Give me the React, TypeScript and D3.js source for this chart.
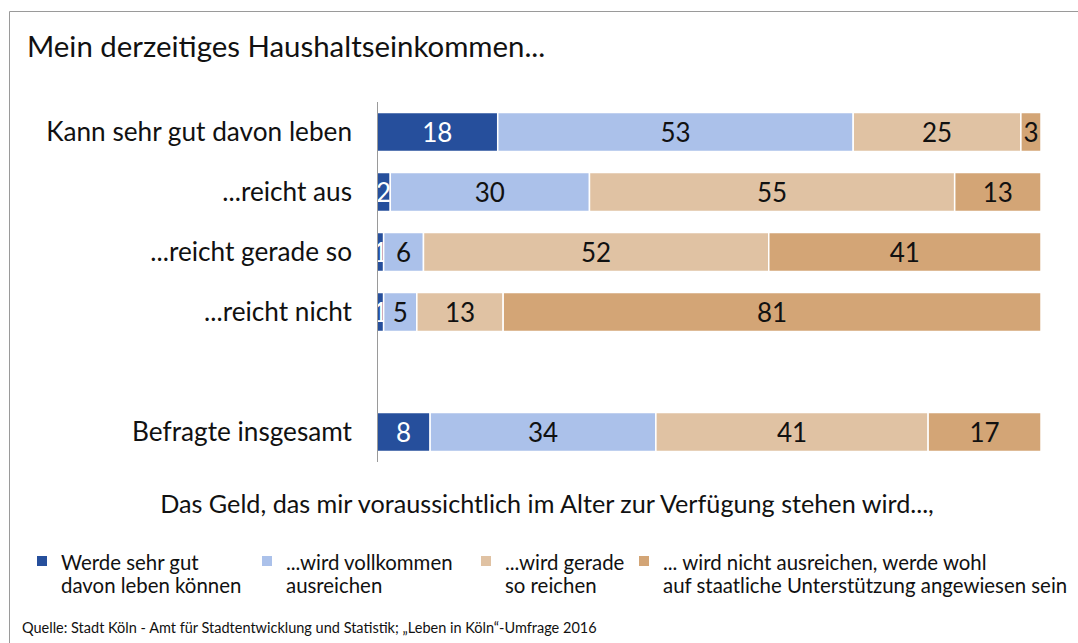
import React from "react";
import * as d3 from "d3";

const categories = ["Kann sehr gut davon leben", "...reicht aus", "...reicht gerade so", "...reicht nicht", "", "Befragte insgesamt"];
const seriesNames = ["Werde sehr gut davon leben können", "...wird vollkommen ausreichen", "...wird gerade so reichen", "... wird nicht ausreichen, werde wohl auf staatliche Unterstützung angewiesen sein"];
const values: (number[] | null)[] = [
  [18, 53, 25, 3],
  [2, 30, 55, 13],
  [1, 6, 52, 41],
  [1, 5, 13, 81],
  null,
  [8, 34, 41, 17],
];
const colors = ["#264f9c", "#abc1ea", "#e0c2a3", "#d3a576"];
const labelColors = ["#ffffff", "#111111", "#111111", "#111111"];
const legendLines = [
  ["Werde sehr gut", "davon leben können"],
  ["...wird vollkommen", "ausreichen"],
  ["...wird gerade", "so reichen"],
  ["... wird nicht ausreichen, werde wohl", "auf staatliche Unterstützung angewiesen sein"],
];
const title = "Mein derzeitiges Haushaltseinkommen...";
const subtitle = "Das Geld, das mir voraussichtlich im Alter zur Verfügung stehen wird...,";
const source = "Quelle: Stadt Köln - Amt für Stadtentwicklung und Statistik; „Leben in Köln“-Umfrage 2016";

const W = 1078, H = 643;
const FONT = "Lato, 'Open Sans', sans-serif";

export default function App() {
  const x0 = 377, x1 = 1041;
  const y = d3.scaleBand<string>().domain(categories.map((c, i) => String(i))).range([102, 462]).paddingInner(0.35).paddingOuter(0.175);
  const legendX = [37, 262, 481, 639];
  return (
    <svg width={W} height={H} style={{ position: "absolute", left: 0, top: 0, fontFamily: FONT }}>
      <rect x={0} y={0} width={W} height={H} fill="#fff" />
      <line x1={9.5} y1={11.5} x2={W} y2={11.5} stroke="#9a9a9a" />
      <line x1={9.5} y1={11.5} x2={9.5} y2={H} stroke="#9a9a9a" />
      <text x={27} y={57} fontSize={29.4} fill="#111">{title}</text>
      {values.map((row, i) => {
        if (!row) return null;
        const total = d3.sum(row);
        const xs = d3.scaleLinear().domain([0, total]).range([x0, x1]);
        const stack = d3.cumsum(row);
        const by = y(String(i))!;
        const bh = y.bandwidth();
        return (
          <g key={i}>
            <text x={352} y={by + bh / 2} dy="0.36em" textAnchor="end" fontSize={26.2} fill="#111">{categories[i]}</text>
            {row.map((v, j) => {
              const a = xs(stack[j] - v), b = xs(stack[j]);
              return (
                <g key={j}>
                  <rect x={a} y={by} width={b - a} height={bh} fill={colors[j]} stroke="#fff" strokeWidth={1.5} />
                  <text x={(a + b) / 2} y={by + bh / 2} dy="0.37em" textAnchor="middle" fontSize={26} fill={labelColors[j]}>{v}</text>
                </g>
              );
            })}
          </g>
        );
      })}
      <line x1={377.5} y1={102} x2={377.5} y2={462} stroke="#9a9a9a" strokeWidth={1} />
      <text x={547} y={513} textAnchor="middle" fontSize={25.2} fill="#111">{subtitle}</text>
      {legendLines.map((lines, i) => (
        <g key={i}>
          <rect x={legendX[i]} y={556} width={10} height={10} fill={colors[i]} />
          {lines.map((l, k) => (
            <text key={k} x={legendX[i] + 24} y={570 + k * 23} fontSize={20.4} fill="#111">{l}</text>
          ))}
        </g>
      ))}
      <text x={22} y={633} fontSize={14.5} fill="#111">{source}</text>
    </svg>
  );
}
